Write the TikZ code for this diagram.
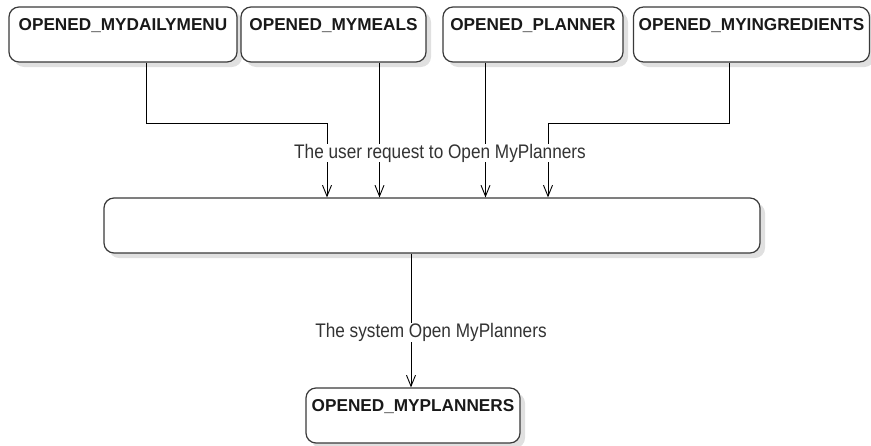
\documentclass[tikz,border=0pt]{standalone}
\usepackage{fontspec}
\setmainfont{Liberation Sans}
\usetikzlibrary{arrows.meta,shadows,positioning}
\definecolor{boxline}{HTML}{3A3A3A}
\definecolor{labtext}{HTML}{333333}
\tikzset{
  statebox/.style={draw=boxline, line width=1.2pt, rounded corners=10pt, fill=white,
    inner sep=0pt, drop shadow={shadow xshift=5pt, shadow yshift=-5pt, fill=black, opacity=0.12}},
  statetext/.style={font=\fontsize{17.2}{19}\selectfont\bfseries, text=black!90, inner sep=0pt, anchor=base, yshift=-23.7pt},
  conn/.style={draw=black, line width=0.9pt},
  arr/.style={conn, -{Straight Barb[length=11pt,width=9pt,line width=0.9pt]}},
  clabel/.style={font=\fontsize{17.2}{19}\selectfont, text=labtext, inner sep=0pt, fill=white, anchor=base}
}
\newcommand{\talltext}[1]{\scalebox{1}[1.14]{#1}}
\begin{document}
\begin{tikzpicture}[x=1pt,y=-1pt]
\useasboundingbox (0,0) rectangle (871,445);
\node[statebox, minimum width=228pt, minimum height=55pt,
  label={[statetext]north:OPENED\_MYDAILYMENU}] (b1) at (123,34.5) {};
\node[statebox, minimum width=185pt, minimum height=55pt,
  label={[statetext]north:OPENED\_MYMEALS}] (b2) at (333.5,34.5) {};
\node[statebox, minimum width=180pt, minimum height=55pt,
  label={[statetext]north:OPENED\_PLANNER}] (b3) at (533,34.5) {};
\node[statebox, minimum width=236pt, minimum height=55pt,
  label={[statetext]north:OPENED\_MYINGREDIENTS}] (b4) at (751.5,34.5) {};
\node[statebox, minimum width=656pt, minimum height=55pt] (mid) at (432,225.5) {};
\node[statebox, minimum width=214pt, minimum height=55pt,
  label={[statetext]north:OPENED\_MYPLANNERS}] (bot) at (413,415.5) {};

\coordinate (j1) at (327,123);
\coordinate (j4) at (548,123);

\draw[arr] ([xshift=23pt]b1.south) |- (j1) -- (j1 |- mid.north);
\draw[arr] ([xshift=46pt]b2.south) -- ([xshift=46pt]b2.south |- mid.north);
\draw[arr] ([xshift=-47.5pt]b3.south) -- ([xshift=-47.5pt]b3.south |- mid.north);
\draw[arr] ([xshift=-22.5pt]b4.south) |- (j4) -- (j4 |- mid.north);
\draw[arr] ([xshift=-21pt]mid.south) -- ([xshift=-21pt]mid.south |- bot.north);

\node[clabel] (l1) at (440,158.3) {\talltext{The user request to Open MyPlanners}};
\node[clabel] (l2) at (431,337.5) {\talltext{The system Open MyPlanners}};
\end{tikzpicture}
\end{document}
